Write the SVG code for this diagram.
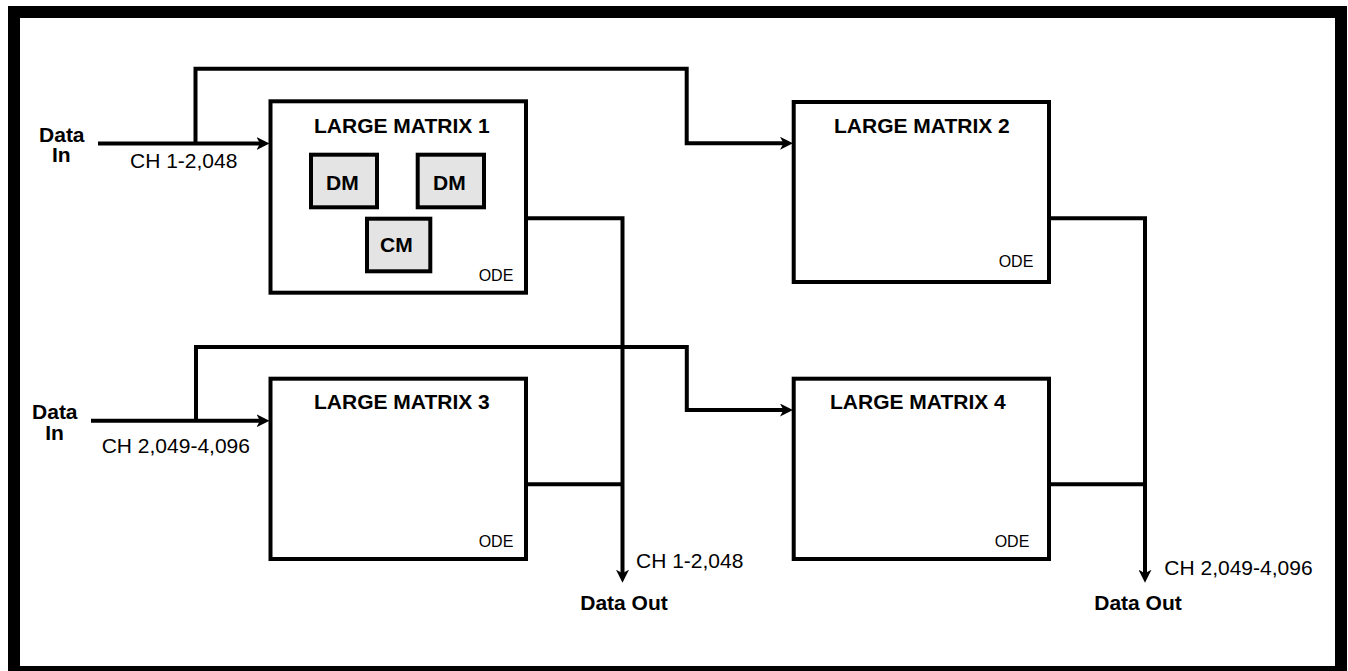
<svg xmlns="http://www.w3.org/2000/svg" width="1348" height="671" viewBox="0 0 1348 671">
<style>
.box{fill:#fff;stroke:#000;stroke-width:4}
.sub{fill:#e4e4e4;stroke:#000;stroke-width:4}
.ln{fill:none;stroke:#000;stroke-width:4;stroke-linejoin:miter}
.b{font-family:"Liberation Sans",Arial,sans-serif;font-weight:bold;font-size:21px;fill:#000}
.r{font-family:"Liberation Sans",Arial,sans-serif;font-size:21px;fill:#000}
.ode{font-family:"Liberation Sans",Arial,sans-serif;font-size:16px;fill:#000;text-anchor:end}
.c{text-anchor:middle}
</style>
<defs>
<marker id="ah" viewBox="0 0 13 13" refX="6" refY="6.5" markerWidth="13" markerHeight="13" markerUnits="userSpaceOnUse" orient="auto">
<path d="M0,0 L13,6.5 L0,13 L3.5,6.5 Z" fill="#000"/>
</marker>
</defs>
<rect x="0" y="0" width="1348" height="671" fill="#fff"/>
<rect id="frame" x="14" y="12" width="1327" height="660" fill="none" stroke="#000" stroke-width="12"/>

<g id="connectors">
<path class="ln" d="M98 143.5 H262.5" marker-end="url(#ah)"/>
<path class="ln" d="M195.5 143.5 V68.7 H686.7 V143.3 H786" marker-end="url(#ah)"/>
<path class="ln" d="M526 218.3 H622.5 V575.7" marker-end="url(#ah)"/>
<path class="ln" d="M526 484.3 H622.5"/>
<path class="ln" d="M91 420.7 H262.5" marker-end="url(#ah)"/>
<path class="ln" d="M196 420.7 V347 H686.8 V410 H786" marker-end="url(#ah)"/>
<path class="ln" d="M1049 218.3 H1145 V575.7" marker-end="url(#ah)"/>
<path class="ln" d="M1049 484.3 H1145"/>
</g>

<g id="matrix1">
<rect class="box" x="270.5" y="101.3" width="255.5" height="191.4"/>
<text class="b" x="314" y="133">LARGE MATRIX 1</text>
<text class="ode" x="513.3" y="281">ODE</text>
</g>
<g id="dm1">
<rect class="sub" x="311" y="154.7" width="66" height="52.6"/>
<text class="b" x="326" y="190">DM</text>
</g>
<g id="dm2">
<rect class="sub" x="417.7" y="154.7" width="66.3" height="52.6"/>
<text class="b" x="433" y="190">DM</text>
</g>
<g id="cm">
<rect class="sub" x="367" y="218.7" width="63.3" height="52.6"/>
<text class="b" x="380" y="252.3">CM</text>
</g>

<g id="matrix2">
<rect class="box" x="793.7" y="102" width="255.3" height="180"/>
<text class="b" x="834" y="132.7">LARGE MATRIX 2</text>
<text class="ode" x="1033.3" y="266.7">ODE</text>
</g>

<g id="matrix3">
<rect class="box" x="270.5" y="378.7" width="255.5" height="180.3"/>
<text class="b" x="314" y="409.3">LARGE MATRIX 3</text>
<text class="ode" x="513.3" y="546.7">ODE</text>
</g>

<g id="matrix4">
<rect class="box" x="793.7" y="378.7" width="255.3" height="180.3"/>
<text class="b" x="830" y="409.3">LARGE MATRIX 4</text>
<text class="ode" x="1029.3" y="546.7">ODE</text>
</g>

<g id="labels">
<text class="b c" x="61.8" y="141.7">Data</text>
<text class="b c" x="61.3" y="162.3">In</text>
<text class="r" x="130" y="168.3">CH 1-2,048</text>
<text class="b c" x="54.8" y="419">Data</text>
<text class="b c" x="54.5" y="439.6">In</text>
<text class="r" x="101.7" y="453.3">CH 2,049-4,096</text>
<text class="r" x="636" y="568.3">CH 1-2,048</text>
<text class="b c" x="624" y="610">Data Out</text>
<text class="r" x="1164.3" y="575">CH 2,049-4,096</text>
<text class="b c" x="1138" y="610">Data Out</text>
</g>
</svg>
